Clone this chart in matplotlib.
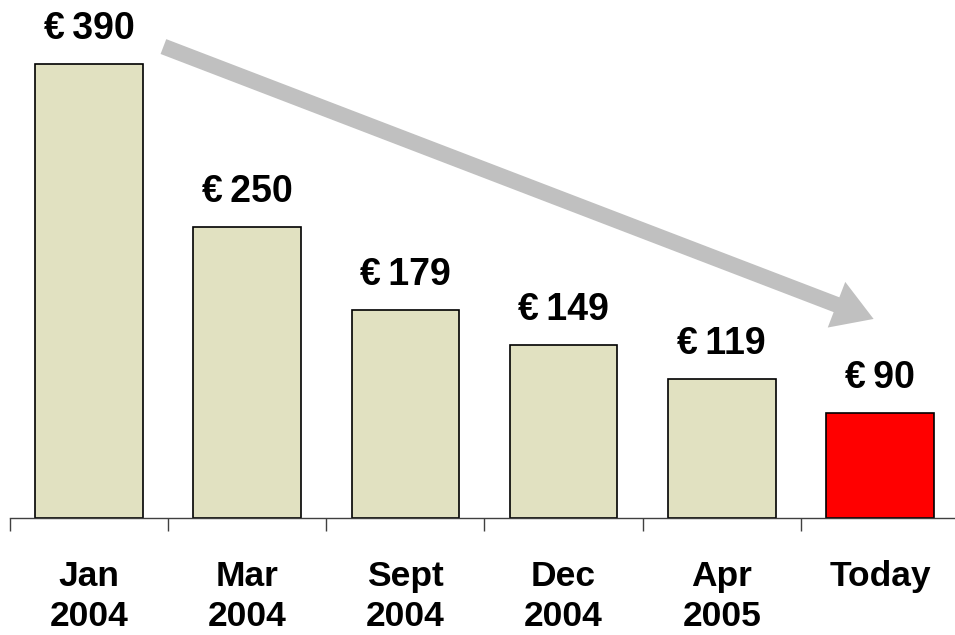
import numpy as np
import matplotlib
matplotlib.use('Agg')
import matplotlib.pyplot as plt

# data
labels = ['Jan\n2004', 'Mar\n2004', 'Sept\n2004', 'Dec\n2004', 'Apr\n2005', 'Today']
prices = [390, 250, 179, 149, 119, 90]
colors = ['#E1E1C1'] * 5 + ['#FF0000']

plt.rcParams['font.family'] = ['Liberation Sans', 'DejaVu Sans']

fig = plt.figure(figsize=(9.55, 6.35), dpi=100)
ax = fig.add_axes([10 / 955, 117 / 635, 949 / 955, 518 / 635])

x = np.arange(len(prices))
bars = ax.bar(x, prices, width=0.68, color=colors, edgecolor='black', linewidth=1.2, zorder=2)

for xi, p in zip(x, prices):
    ax.annotate('€\u2009' + str(p), (xi, p), xytext=(0, 18), textcoords='offset points',
                ha='center', va='baseline', fontsize=27, fontweight='bold')

# trend arrow
ax.annotate('', xy=(4.96, 171), xytext=(0.47, 405),
            arrowprops=dict(arrowstyle='simple,head_length=1.3,head_width=1.6,tail_width=0.52',
                            mutation_scale=22, color='#C0C0C0', lw=0, shrinkA=0, shrinkB=0),
            zorder=3)

ax.set_xlim(-0.5, len(prices) - 0.5)
ax.set_ylim(0, 445)
for s in ['top', 'right', 'left']:
    ax.spines[s].set_visible(False)
ax.spines['bottom'].set_color('#404040')
ax.spines['bottom'].set_linewidth(1.0)
ax.set_yticks([])

ax.set_xticks(x)
ax.set_xticklabels(labels, fontsize=25.5, fontweight='bold', linespacing=1.3)
ax.set_xticks(np.arange(-0.5, len(prices), 1.0), minor=True)
ax.tick_params(axis='x', which='major', length=0, pad=30)
ax.tick_params(axis='x', which='minor', length=9, width=1.0, color='#404040', direction='out')

fig.savefig('out.png', dpi=100)
